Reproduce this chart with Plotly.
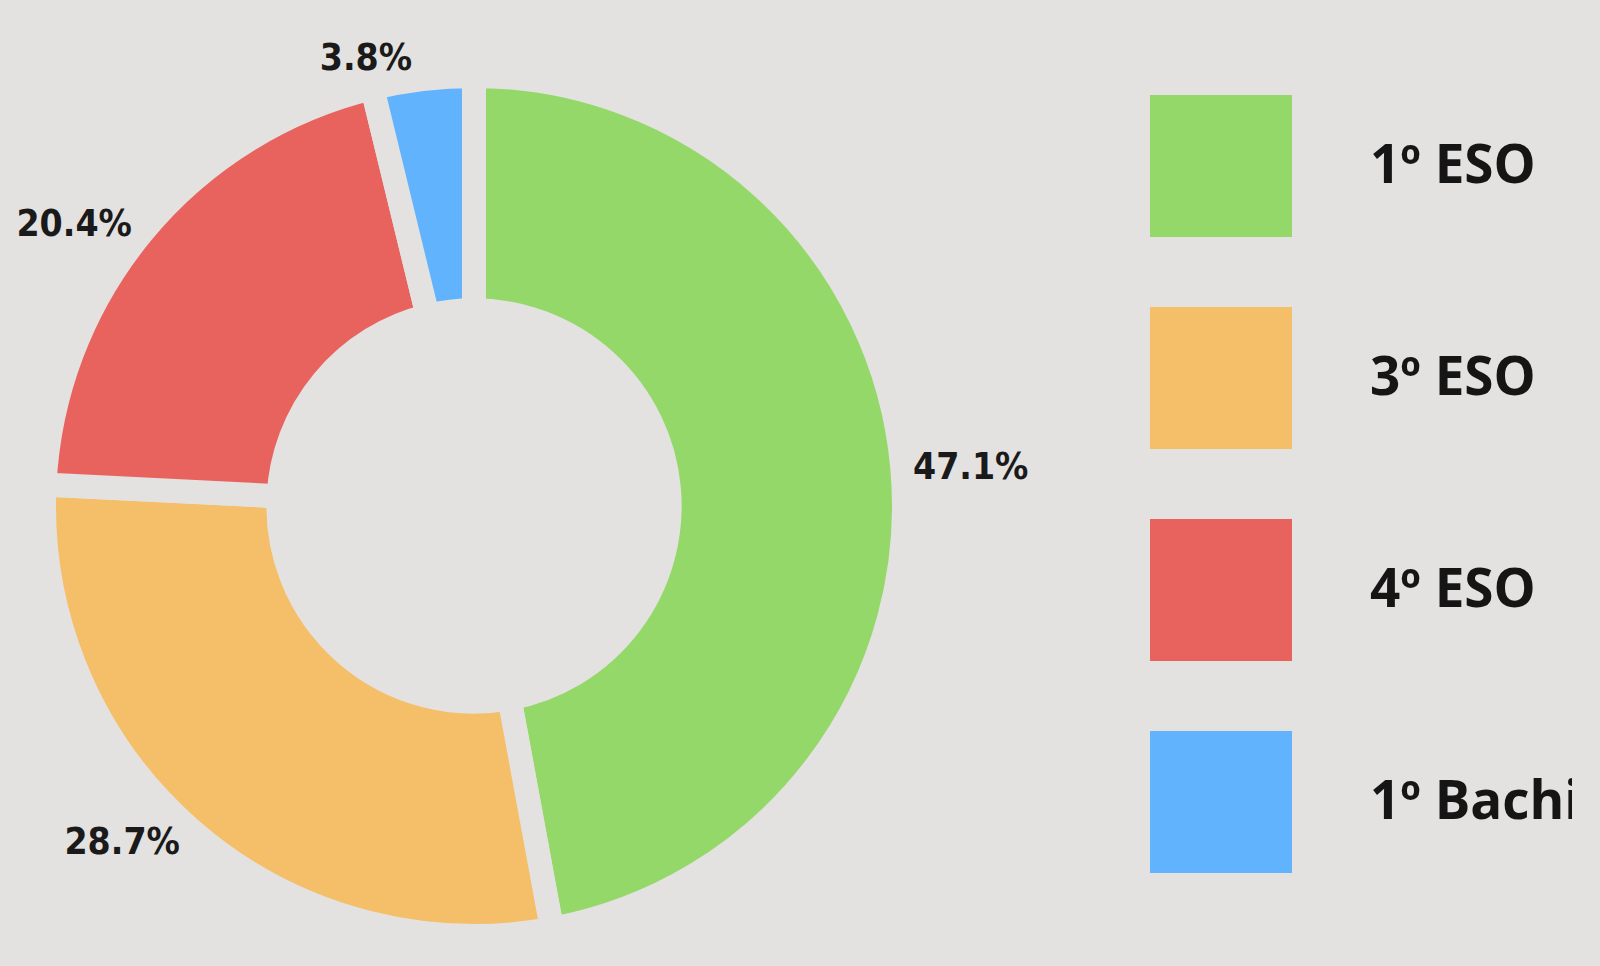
import plotly.graph_objects as go

categories = ["1º ESO", "3º ESO", "4º ESO", "1º Bachillerato"]
values = [47.1, 28.7, 20.4, 3.8]
colors = ["#94D86A", "#F4BF68", "#E9635E", "#60B3FC"]

BG = "#E4E2E0"
W, H = 1600, 966

# pie geometry (pixels)
cx, cy, R = 474, 506, 430
dom_x = [(cx - R) / W, (cx + R) / W]
dom_y = [1 - (cy + R) / H, 1 - (cy - R) / H]

fig = go.Figure()
fig.add_trace(go.Pie(
    labels=categories,
    values=values,
    sort=False,
    direction="clockwise",
    rotation=0,
    hole=0.455,
    marker=dict(colors=colors, line=dict(color=BG, width=24)),
    texttemplate="%{value:.1f}%",
    textposition="outside",
    textfont=dict(family="DejaVu Sans Condensed", size=37, color="#1a1a1a", weight="bold"),
    showlegend=False,
    domain=dict(x=dom_x, y=dom_y),
))

# custom legend (big swatches) drawn as a scatter on a pixel-unit axis
legend_y0, legend_step = 166, 212
ys = [legend_y0 + legend_step * i for i in range(len(categories))]
fig.add_trace(go.Scatter(
    x=[1221] * len(categories), y=ys, mode="markers",
    marker=dict(symbol="square", size=142, color=colors, line=dict(width=0)),
    showlegend=False, hoverinfo="skip",
))
fig.add_trace(go.Scatter(
    x=[1370] * len(categories), y=[v + 4 for v in ys], mode="text",
    text=categories, textposition="middle right",
    textfont=dict(family="Open Sans", size=53, color="#151515", weight=700),
    showlegend=False, hoverinfo="skip", cliponaxis=True,
))

fig.update_layout(
    width=W, height=H,
    margin=dict(l=0, r=0, t=0, b=0),
    paper_bgcolor=BG, plot_bgcolor="rgba(0,0,0,0)",
    xaxis=dict(domain=[0, 1572 / W], range=[0, 1572], visible=False, fixedrange=True),
    yaxis=dict(domain=[0, 1], range=[H, 0], visible=False, fixedrange=True),
)

fig.write_html("out.html")
